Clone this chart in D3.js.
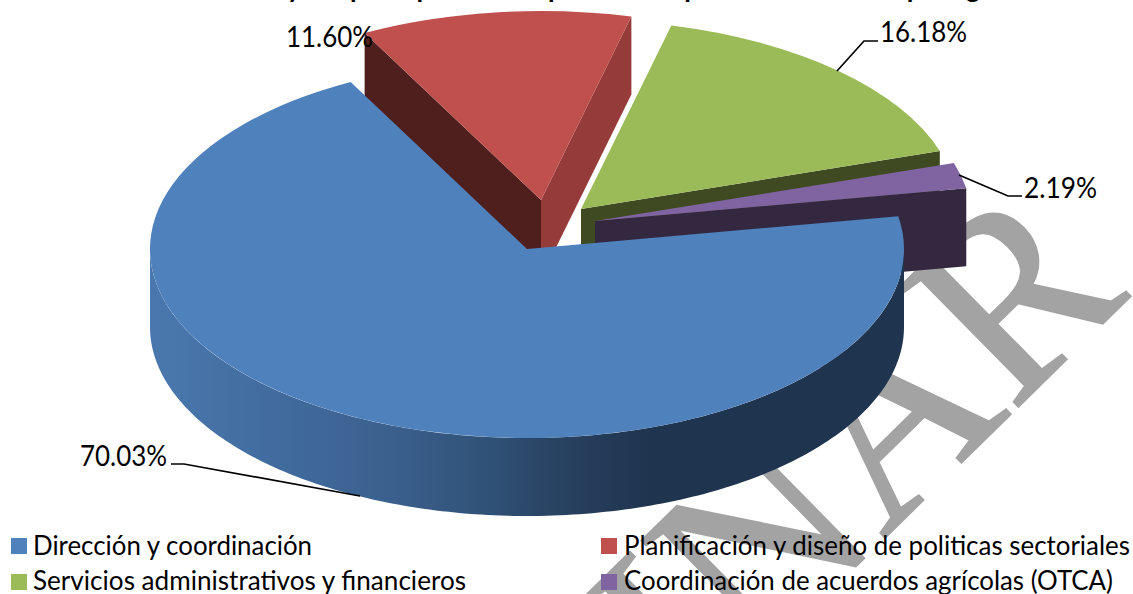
<!DOCTYPE html>
<html><head><meta charset="utf-8">
<script src="https://cdn.jsdelivr.net/npm/d3@7"></script>
<style>html,body{margin:0;padding:0;background:#fff;overflow:hidden}svg{display:block}text{font-family:Lato,"Open Sans",sans-serif}</style>
</head><body><svg id="c" width="1133" height="594"></svg>
<script>
const categories = ["Dirección y coordinación","Planificación y diseño de politicas sectoriales","Servicios administrativos y financieros","Coordinación de acuerdos agrícolas (OTCA)"];
const values = [70.03,11.60,16.18,2.19];
const valueLabels = ["70.03%","11.60%","16.18%","2.19%"];
const colors = ["#4f81bd","#c0504d","#9bbb59","#8064a2"];
const wallNear = ["#1f344f","#953b39","#3f4a23","#33283f"];
const wallFar = ["#1f344f","#4f1f1d","#3f4a23","#33283f"];
const explodeX = [0,14,54,68];
const explodeY = [0,-49,-40,-28];
const titleText = "Avance físico y del presupuesto del plan actual por oficina central para gestión";
const watermark = "PRELIMINAR";

const svg = d3.select("#c");
const W=1133,H=594,cx=527,cy=249,rx=377,ry=189,depth=78;
const rad=d3.scaleLinear().domain([0,360]).range([0,2*Math.PI]);
const pie=d3.pie().sort(null).startAngle(rad(80)).endAngle(rad(440));
const slices=pie(values);
const px=(t,dx=0)=>cx+dx+rx*Math.sin(t);
const py=(t,dy=0)=>cy+dy-ry*Math.cos(t);

const grad=svg.append("defs").append("linearGradient").attr("id","blueWall")
 .attr("gradientUnits","userSpaceOnUse").attr("x1",150).attr("x2",904).attr("y1",0).attr("y2",0);
[[0,"#4a78ae"],[.2,"#40699b"],[.33,"#3a5f8c"],[.46,"#2f5075"],[.52,"#2a4565"],[.66,"#1f344f"],[1,"#1f344f"]]
 .forEach(s=>grad.append("stop").attr("offset",s[0]).attr("stop-color",s[1]));

svg.append("text").text(watermark).attr("text-anchor","end")
 .attr("transform","translate(1131,296) rotate(-44.5) scale(1,1.03)")
 .attr("font-size",250).attr("fill","#a3a3a3").attr("stroke","#a3a3a3").attr("stroke-width",2)
 .style("font-family","'Liberation Serif',serif");

svg.append("text").text(titleText).attr("x",124).attr("y",-3)
 .attr("font-size",28).attr("font-weight",700).attr("textLength",930).attr("lengthAdjust","spacingAndGlyphs");

const arc=d3.arc().innerRadius(0).outerRadius(rx);
const topG=(i)=>svg.append("g").attr("transform",`translate(${cx+explodeX[i]},${cy+explodeY[i]}) scale(1,${ry/rx})`);
const wall=(i,t,fill)=>{
 const dx=explodeX[i],dy=explodeY[i];
 svg.append("path").attr("fill",fill).attr("d",d3.line()([
  [cx+dx,cy+dy],[px(t,dx),py(t,dy)],[px(t,dx),py(t,dy+depth)],[cx+dx,cy+dy+depth]])+"Z");
};
[1,2,3].forEach(i=>{
 const s=slices[i];
 if(i===1) wall(i,s.startAngle,wallFar[i]);
 wall(i,s.endAngle,wallNear[i]);
 topG(i).append("path").attr("fill",colors[i]).attr("d",arc(s));
});
const ts=d3.range(90,270.5,1).map(rad);
svg.append("path").attr("fill","url(#blueWall)")
 .attr("d",d3.area().x(t=>px(t)).y0(t=>py(t)).y1(t=>py(t,depth))(ts));
topG(0).append("path").attr("fill",colors[0]).attr("d",arc(slices[0]));

const leaderPts=[[[171,464],[184,464],[360,496]],[],[[878,41],[864,41],[837,71]],[[1022,196],[1008,196],[959,175]]];
leaderPts.forEach(p=>{ if(p.length) svg.append("path").attr("fill","none").attr("stroke","#000").attr("stroke-width",1.7).attr("d",d3.line()(p)); });

const labelX=[80,286,880,1024],labelY=[466,47,42,198],labelW=[87,87,87,73];
valueLabels.forEach((t,i)=>svg.append("text").text(t).attr("x",labelX[i]).attr("y",labelY[i])
 .attr("font-size",28).attr("fill","#000").attr("textLength",labelW[i]).attr("lengthAdjust","spacingAndGlyphs"));

const legX=[11,601,11,601],legY=[538,538,574,574],legTx=[33,624,33,624],legBase=[555,555,590,590],legW=[279,506,433,489];
categories.forEach((t,i)=>{
 svg.append("rect").attr("x",legX[i]).attr("y",legY[i]).attr("width",16).attr("height",16).attr("fill",colors[i]);
 svg.append("text").text(t).attr("x",legTx[i]).attr("y",legBase[i]).attr("font-size",27).attr("fill","#000")
  .attr("textLength",legW[i]).attr("lengthAdjust","spacingAndGlyphs");
});
</script></body></html>
